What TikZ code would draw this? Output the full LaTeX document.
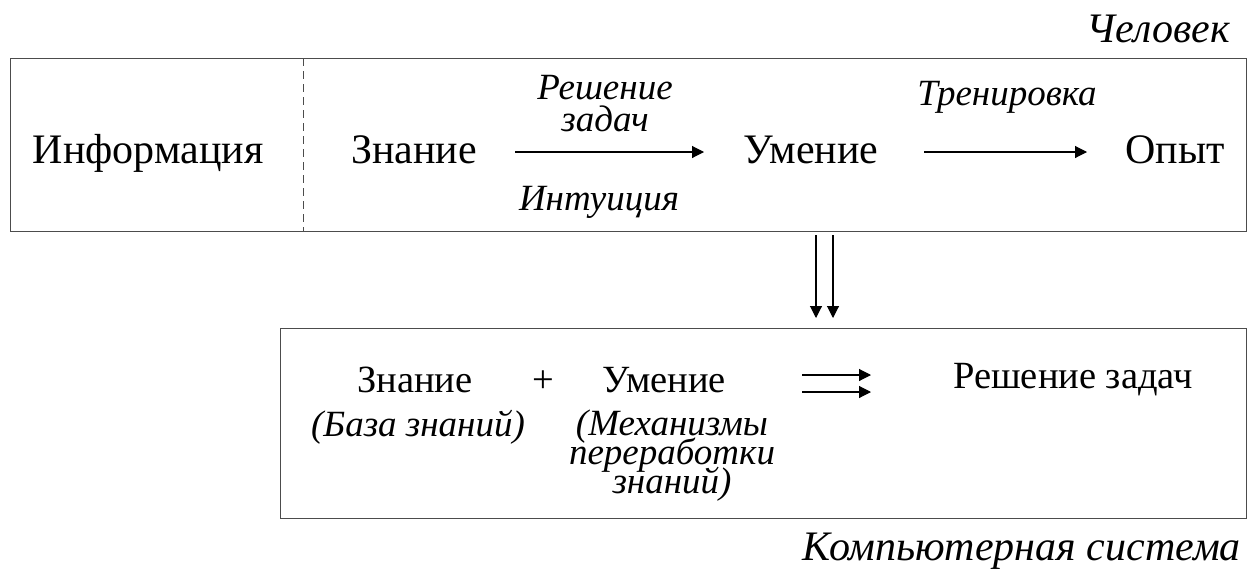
\documentclass[tikz,border=0pt]{standalone}
\usepackage{fontspec}
\setmainfont{Liberation Serif}
\usetikzlibrary{arrows.meta}
\newcommand\mytightlines{\lineskiplimit=-50pt\relax}
\begin{document}
\begin{tikzpicture}[x=1pt,y=-1pt,
  frame/.style={draw=black!70,line width=1.4pt,inner sep=0pt,anchor=north west},
  big/.style={font=\fontsize{42}{44}\selectfont,inner sep=0pt,anchor=base},
  mid/.style={font=\fontsize{38.5}{40}\selectfont,inner sep=0pt,anchor=base},
  lbl/.style={font=\fontsize{37}{38}\selectfont\itshape,inner sep=0pt,anchor=base},
  stack/.style={font={\fontsize{37}{#1}\selectfont\itshape\mytightlines},
    inner sep=0pt,align=center,anchor=north},
  ttl/.style={font=\fontsize{42}{44}\selectfont\itshape,inner sep=0pt,anchor=base east},
  arr/.style={line width=1.1pt,-{Triangle[width=12pt,length=12pt]}}]
\useasboundingbox (0,0) rectangle (1251,568);
% boxes
\node[frame,minimum width=1236pt,minimum height=173pt] (top) at (10,58) {};
\node[frame,minimum width=966pt,minimum height=190pt] (bot) at (280,328) {};
\coordinate (dsh1) at (303,58);
\coordinate (dsh2) at (303,231);
\draw[black!70,line width=0.8pt,dash pattern=on 8pt off 5pt] (dsh1) -- (dsh2);
% titles
\node[ttl] (chel) at (1230,42) {Человек};
\node[ttl] (komp) at (1241,560) {Компьютерная система};
% top row
\node[big] (inf) at (148,163) {Информация};
\node[big] (zn) at (414,163) {Знание};
\node[big] (um) at (811,163) {Умение};
\node[big] (op) at (1175,163) {Опыт};
\node[stack=32pt] (rz) at (605,75.5) {Решение\\задач};
\node[lbl] (int) at (599,210) {Интуиция};
\node[lbl] (tr) at (1007,105) {Тренировка};
\coordinate (a1s) at (515,152);
\coordinate (a1e) at (704,152);
\coordinate (a2s) at (924,152);
\coordinate (a2e) at (1087,152);
\draw[arr] (a1s) -- (a1e);
\draw[arr] (a2s) -- (a2e);
% down arrows
\coordinate (d1s) at (816,235); \coordinate (d1e) at (816,318);
\coordinate (d2s) at (833,235); \coordinate (d2e) at (833,318);
\draw[arr] (d1s) -- (d1e);
\draw[arr] (d2s) -- (d2e);
% bottom row
\node[mid] (zn2) at (415,392) {Знание};
\node[mid] (plus) at (543,392) {+};
\node[mid] (um2) at (664,392) {Умение};
\node[lbl] (bz) at (418,436) {(База знаний)};
\node[stack=29pt] (meh) at (672,410) {(Механизмы\\переработки\\знаний)};
\node[mid] (rz2) at (1073,388) {Решение задач};
\coordinate (r1s) at (802,375); \coordinate (r1e) at (871,375);
\coordinate (r2s) at (802,392); \coordinate (r2e) at (871,392);
\draw[arr] (r1s) -- (r1e);
\draw[arr] (r2s) -- (r2e);
\end{tikzpicture}
\end{document}
